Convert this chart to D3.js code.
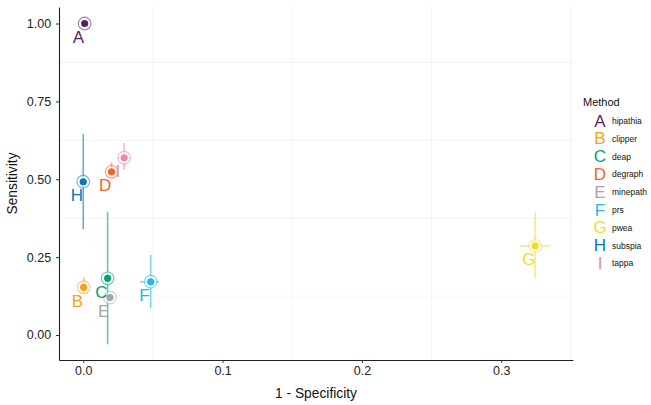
<!DOCTYPE html>
<html><head><meta charset="utf-8">
<script src="https://cdn.jsdelivr.net/npm/d3@7"></script>
<style>body{margin:0;background:#fff;font-family:"Liberation Sans",Arial,sans-serif;}</style>
</head><body><svg id="c" width="651" height="405"></svg>
<script>
const methods = ["hipathia","clipper","deap","degraph","minepath","prs","pwea","subspia","tappa"];
const letters = ["A","B","C","D","E","F","G","H","I"];
const colors = ["#5E1F62","#F5A31A","#0E9E76","#F26522","#A6A6A6","#29B5E8","#F2DC2A","#0A77B7","#E889B0"];
const fpr    = [0.001, 0.0003, 0.0175, 0.0203, 0.0192, 0.0484, 0.3243, 0.0, 0.0294];
const fprLo  = [0.001, -0.001, 0.016, 0.0167, 0.018, 0.0407, 0.3135, -0.001, 0.0247];
const fprHi  = [0.001, 0.002, 0.019, 0.0250, 0.0205, 0.0544, 0.335, 0.001, 0.0340];
const sens   = [1.00, 0.153, 0.182, 0.524, 0.12, 0.171, 0.286, 0.492, 0.569];
const sensLo = [1.00, 0.135, -0.03, 0.507, 0.11, 0.086, 0.182, 0.34, 0.531];
const sensHi = [1.00, 0.186, 0.396, 0.553, 0.13, 0.257, 0.393, 0.645, 0.617];
const xTicks = [0, 0.1, 0.2, 0.3];
const yTicks = [0, 0.25, 0.5, 0.75, 1.0];
const xMinor = [0.05, 0.15, 0.25, 0.35];
const yMinor = [0.125, 0.375, 0.625, 0.875];

const svg = d3.select("#c");
const L = 59, R = 573, T = 7, B = 360;
const x = d3.scaleLinear().domain([-0.0174, 0.3515]).range([L, R]);
const y = d3.scaleLinear().domain([-0.0803, 1.053]).range([B, T]);

// minor grid
svg.append("g").selectAll("line").data(yMinor).join("line")
  .attr("x1", L).attr("x2", R).attr("y1", d=>y(d)).attr("y2", d=>y(d))
  .attr("stroke", "#ebebeb").attr("stroke-width", 0.6);
svg.append("g").selectAll("line").data(xMinor).join("line")
  .attr("y1", T).attr("y2", B).attr("x1", d=>x(d)).attr("x2", d=>x(d))
  .attr("stroke", "#ebebeb").attr("stroke-width", 0.6);

// axes
const xa = svg.append("g").attr("transform", `translate(0,${B})`)
  .call(d3.axisBottom(x).tickValues(xTicks).tickFormat(d3.format(".1f")).tickSize(3).tickSizeOuter(0));
const ya = svg.append("g").attr("transform", `translate(${L},0)`)
  .call(d3.axisLeft(y).tickValues(yTicks).tickFormat(d3.format(".2f")).tickSize(3).tickSizeOuter(0));
[xa, ya].forEach(a => {
  a.select(".domain").attr("stroke", "#222").attr("stroke-width", 1.1);
  a.selectAll(".tick line").attr("stroke", "#333");
  a.selectAll(".tick text").attr("fill", "#222").attr("font-size", 12.5)
    .attr("font-family", '"Liberation Sans",Arial,sans-serif');
});
ya.selectAll(".tick text").attr("dx", "-0.15em");

svg.append("text").attr("x", (L+R)/2).attr("y", 398).attr("text-anchor", "middle")
  .attr("font-size", 13.8).attr("fill", "#111").text("1 - Specificity");
svg.append("text").attr("transform", `translate(17,${(T+B)/2}) rotate(-90)`).attr("text-anchor", "middle")
  .attr("font-size", 13.8).attr("fill", "#111").text("Sensitivity");

const data = methods.map((m,i)=>({m, l:letters[i], c:colors[i], x:fpr[i], xl:fprLo[i], xh:fprHi[i], y:sens[i], yl:sensLo[i], yh:sensHi[i]}));

const g = svg.append("g");
// error bars
g.selectAll(".ev").data(data).join("line")
  .attr("x1", d=>x(d.x)).attr("x2", d=>x(d.x)).attr("y1", d=>y(d.yl)).attr("y2", d=>y(d.yh))
  .attr("stroke", d=>d.c).attr("stroke-width", 1.6).attr("stroke-opacity", 0.6);
g.selectAll(".eh").data(data).join("line")
  .attr("y1", d=>y(d.y)).attr("y2", d=>y(d.y)).attr("x1", d=>x(d.xl)).attr("x2", d=>x(d.xh))
  .attr("stroke", d=>d.c).attr("stroke-width", 1.6).attr("stroke-opacity", 0.6);
// rings
g.selectAll(".ring").data(data).join("circle")
  .attr("cx", d=>x(d.x)).attr("cy", d=>y(d.y)).attr("r", 6.3)
  .attr("fill", "#fff").attr("fill-opacity", 0.6)
  .attr("stroke", d=>d.c).attr("stroke-opacity", 0.55).attr("stroke-width", 1.2);
g.selectAll(".dot").data(data).join("circle")
  .attr("cx", d=>x(d.x)).attr("cy", d=>y(d.y)).attr("r", 3.6).attr("fill", d=>d.c);
// labels
g.selectAll(".lab").data(data).join("text")
  .attr("x", d=>x(d.x - 0.0045)).attr("y", d=>y(d.y - 0.045))
  .attr("text-anchor", "middle").attr("dominant-baseline", "central")
  .attr("font-size", 17).attr("fill", d=>d.c).text(d=>d.l);

// legend
const lg = svg.append("g");
lg.append("text").attr("x", 583).attr("y", 106).attr("font-size", 11).attr("fill", "#111").text("Method");
const it = lg.selectAll(".it").data(data).join("g")
  .attr("transform", (d,i)=>`translate(0,${121 + i*17.8})`);
it.append("text").attr("x", 600).attr("y", 0).attr("text-anchor", "middle").attr("dominant-baseline", "central")
  .attr("font-size", 17).attr("fill", d=>d.c).text(d=>d.l);
it.append("text").attr("x", 612).attr("y", 0).attr("dominant-baseline", "central")
  .attr("font-size", 8.5).attr("fill", "#111").text(d=>d.m);
</script></body></html>
